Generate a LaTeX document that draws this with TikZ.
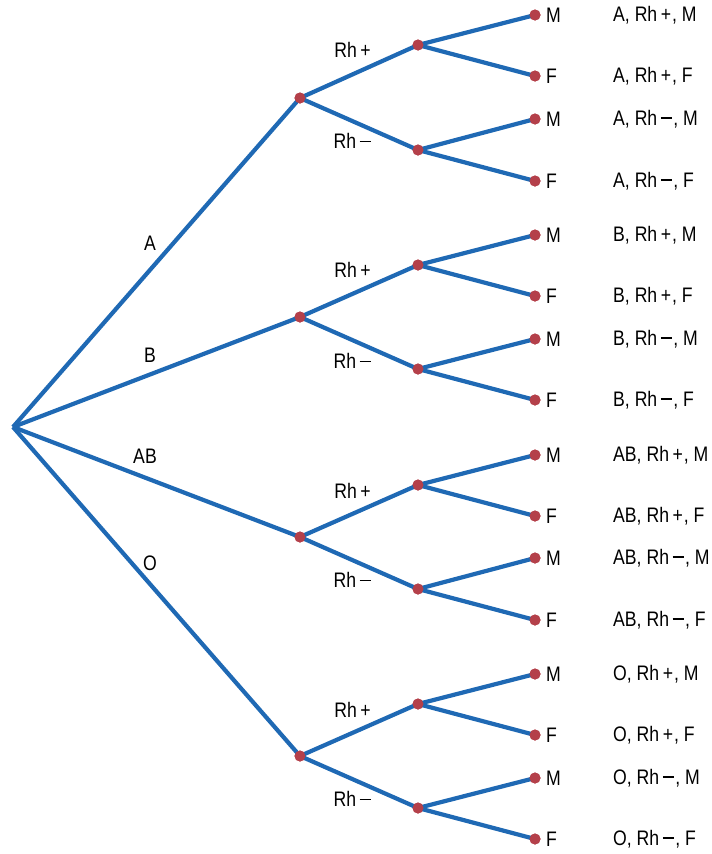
\documentclass[tikz,border=0pt]{standalone}
\usepackage{fontspec}
\setmainfont{Liberation Sans}[FakeStretch=0.84]
\definecolor{edgeblue}{HTML}{1F69B4}
\definecolor{dotred}{HTML}{B4404A}
\newcommand{\plusg}{\,+\kern0.05em}
\newcommand{\minusg}{\,\rule[0.32em]{0.52em}{0.055em}\kern0.08em}
\begin{document}
\begin{tikzpicture}[x=1pt,y=-1pt,
  edge/.style={draw=edgeblue,line width=4.2pt},
  dotnode/.style={circle,fill=dotred,inner sep=0pt,minimum size=11pt},
  lbl/.style={font=\fontsize{21}{24}\selectfont,inner sep=0pt},
  leaflbl/.style={lbl,anchor=west},
]
\useasboundingbox (0,0) rectangle (712,854);
\coordinate (r) at (13,427);
% level 1
\node[dotnode] (A) at (300,98) {};
\node[dotnode] (B) at (300,317) {};
\node[dotnode] (AB) at (300,537) {};
\node[dotnode] (O) at (300,756) {};
% level 2
\node[dotnode] (Ap) at (418,45) {};
\node[dotnode] (Am) at (418,150) {};
\node[dotnode] (Bp) at (418,265) {};
\node[dotnode] (Bm) at (418,369) {};
\node[dotnode] (ABp) at (418,485) {};
\node[dotnode] (ABm) at (418,589) {};
\node[dotnode] (Op) at (418,704) {};
\node[dotnode] (Om) at (418,808) {};
% leaves
\foreach \n/\y in {ApM/15,ApF/76,AmM/119,AmF/181,BpM/235,BpF/296,BmM/339,BmF/400,ABpM/455,ABpF/516,ABmM/558,ABmF/620,OpM/674,OpF/735,OmM/778,OmF/839}
  \node[dotnode] (\n) at (535,\y) {};
% edges
\foreach \a in {A,B,AB,O} \draw[edge] (r) -- (\a.center);
\foreach \a/\b in {A/Ap,A/Am,B/Bp,B/Bm,AB/ABp,AB/ABm,O/Op,O/Om} \draw[edge] (\a.center) -- (\b.center);
\foreach \a in {Ap,Am,Bp,Bm,ABp,ABm,Op,Om} {
  \draw[edge] (\a.center) -- (\a M.center);
  \draw[edge] (\a.center) -- (\a F.center);
}
% dots on top
\foreach \n in {A,B,AB,O,Ap,Am,Bp,Bm,ABp,ABm,Op,Om,ApM,ApF,AmM,AmF,BpM,BpF,BmM,BmF,ABpM,ABpF,ABmM,ABmF,OpM,OpF,OmM,OmF}
  \fill[dotred] (\n.center) circle (5.5pt);
% edge labels
\node[lbl] (lA) at (150,243) {A};
\node[lbl] (lB) at (150,355) {B};
\node[lbl] (lAB) at (145,456) {AB};
\node[lbl] (lO) at (150,563) {O};
\foreach \g/\yp/\ym in {A/50/141,B/270/361,AB/491/580,O/710/799} {
  \node[lbl] (lr\g p) at (353,\yp) {Rh\plusg};
  \node[lbl] (lr\g m) at (353,\ym) {Rh\minusg};
}
% leaf labels
\foreach \g in {A,B,AB,O} {
  \foreach \s/\sym in {p/\plusg,m/\minusg} {
    \node[leaflbl] (t\g\s M) at ([xshift=11pt]\g\s M.center) {M};
    \node[leaflbl] (t\g\s F) at ([xshift=11pt]\g\s F.center) {F};
    \node[leaflbl] (c\g\s M) at (613,0 |- \g\s M.center) {\g, Rh\sym, M};
    \node[leaflbl] (c\g\s F) at (613,0 |- \g\s F.center) {\g, Rh\sym, F};
  }
}
\end{tikzpicture}
\end{document}
